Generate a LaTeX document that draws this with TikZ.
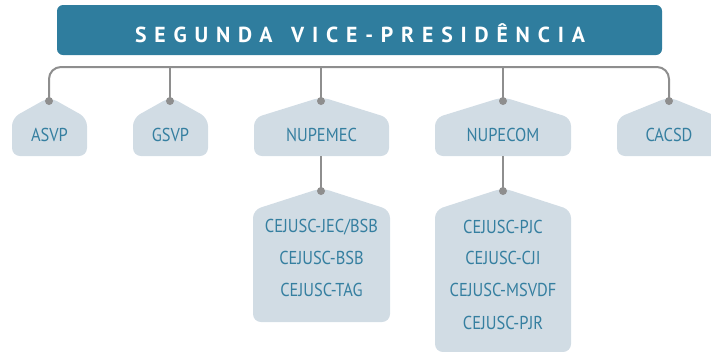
\documentclass[tikz,border=0pt]{standalone}
\usepackage{fontspec}
\setmainfont{PT Sans}
\definecolor{titlebg}{HTML}{2F7D9E}
\definecolor{boxbg}{HTML}{D1DCE4}
\definecolor{txtblue}{HTML}{357FA0}
\definecolor{linegray}{HTML}{8E8E8E}
\newcommand\housebox[5]{%
  \fill[boxbg, rounded corners=6pt] (#1,#5) -- (#1,#4) -- ({(#1+#2)/2},#3) -- (#2,#4) -- (#2,#5) -- cycle;}
\begin{document}
\begin{tikzpicture}[x=0.75pt,y=-0.75pt,
  lbl/.style={text=txtblue, font=\fontsize{14}{16}\selectfont\addfontfeature{FakeStretch=0.88}, inner sep=0pt},
  titletxt/.style={text=white, font=\fontsize{16.3}{20}\selectfont\bfseries\addfontfeature{LetterSpace=36}, inner sep=0pt},
  conn/.style={draw=linegray, line width=1.5pt},
  dot/.style={fill=linegray}]
\useasboundingbox (0,0) rectangle (711,351);
\clip (0,0) rectangle (711,351);
% title
\fill[titlebg, rounded corners=4.5pt] (57,5) rectangle (662,55);
\node[titletxt] (title) at (360,33) {SEGUNDA\hspace{14pt}VICE-PRESIDÊNCIA};
% boxes
\housebox{12}{87}{97}{118}{156}
\housebox{133}{208}{97}{118}{156}
\housebox{254}{389}{97}{118}{156}
\housebox{435}{571}{97}{118}{156}
\housebox{617}{721}{97}{118}{156}
\housebox{253}{390}{188}{210}{322}
\housebox{435}{571}{188}{210}{352}
% dots / coordinates
\coordinate (dA) at (49,101);
\coordinate (dB) at (170,101);
\coordinate (dC) at (321,101);
\coordinate (dD) at (503,101);
\coordinate (dE) at (669,101);
\coordinate (bA) at (49,67);
\coordinate (bB) at (170,67);
\coordinate (bC) at (321,67);
\coordinate (bD) at (503,67);
\coordinate (bE) at (669,67);
\coordinate (cC) at (321,191);
\coordinate (cD) at (503,191);
\coordinate (sC) at (321,156);
\coordinate (sD) at (503,156);
\draw[conn, rounded corners=9pt] (dA) -- (bA) -- (bE) -- (dE);
\draw[conn] (bB) -- (dB);
\draw[conn] (bC) -- (dC);
\draw[conn] (bD) -- (dD);
\draw[conn] (sC) -- (cC);
\draw[conn] (sD) -- (cD);
\foreach \p in {dA,dB,dC,dD,dE,cC,cD} \fill[dot] (\p) circle (3pt);
% labels
\node[lbl] (asvp) at (49.5,135) {ASVP};
\node[lbl] (gsvp) at (170.5,135) {GSVP};
\node[lbl] (nupemec) at (321.5,135) {NUPEMEC};
\node[lbl] (nupecom) at (503,135) {NUPECOM};
\node[lbl] (cacsd) at (669,135) {CACSD};
\node[lbl] (c1) at (321.5,227) {CEJUSC-JEC/BSB};
\node[lbl] (c2) at (321.5,258) {CEJUSC-BSB};
\node[lbl] (c3) at (321.5,290) {CEJUSC-TAG};
\node[lbl] (d1) at (503,227) {CEJUSC-PJC};
\node[lbl] (d2) at (503,258) {CEJUSC-CJI};
\node[lbl] (d3) at (503,290) {CEJUSC-MSVDF};
\node[lbl] (d4) at (503,323) {CEJUSC-PJR};
\end{tikzpicture}
\end{document}
